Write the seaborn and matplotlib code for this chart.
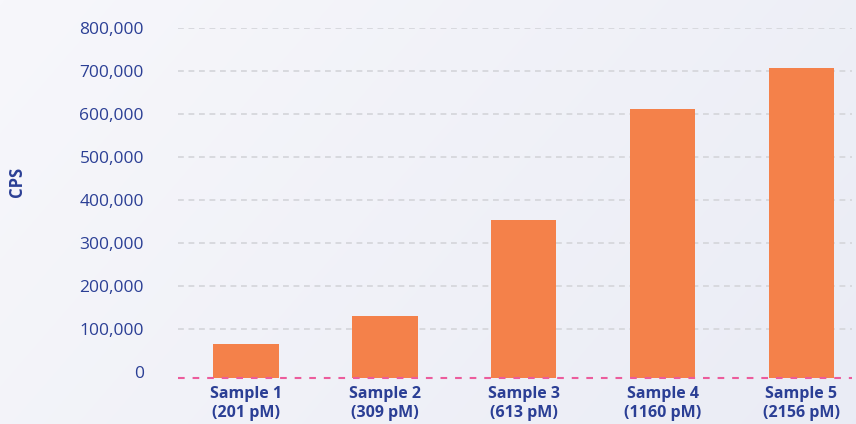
import numpy as np
import pandas as pd
import matplotlib
matplotlib.use("Agg")
import matplotlib.pyplot as plt
import seaborn as sns
from matplotlib.colors import LinearSegmentedColormap

# Data
samples = ["Sample 1", "Sample 2", "Sample 3", "Sample 4", "Sample 5"]
concentrations = ["201 pM", "309 pM", "613 pM", "1160 pM", "2156 pM"]
cps = [65000, 130000, 352000, 610000, 707000]
y_ticks = [0, 100000, 200000, 300000, 400000, 500000, 600000, 700000, 800000]

TEXT = "#2b3f95"
BAR = "#f4814a"
GRID = "#d8d9de"
BASE = "#ec5c9c"

sns.set_theme(style="white")
plt.rcParams["font.family"] = ["Open Sans", "DejaVu Sans"]

W, H = 856, 424
fig = plt.figure(figsize=(W / 100, H / 100), dpi=100)

# soft diagonal background gradient
bg = fig.add_axes([0, 0, 1, 1], zorder=-10)
yy, xx = np.mgrid[0:1:H * 1j, 0:1:W * 1j]
shade = 0.7 * xx + 0.3 * yy
bg.imshow(shade, cmap=LinearSegmentedColormap.from_list("bg", ["#f7f7fb", "#eaecf5"]),
          aspect="auto", extent=[0, 1, 0, 1], origin="upper")
bg.axis("off")

left, right, top, bottom = 178, 852, 27.7, 377.5
ax = fig.add_axes([left / W, (H - bottom) / H, (right - left) / W, (bottom - top) / H])
ax.patch.set_alpha(0)

df = pd.DataFrame({
    "label": [f"{s}\n({c})" for s, c in zip(samples, concentrations)],
    "cps": cps,
})
sns.barplot(data=df, x="label", y="cps", color=BAR, saturation=1, width=0.47,
            ax=ax, zorder=3, errorbar=None)

ymin = -13000
ax.set_ylim(ymin, 800000)
ax.set_xlim(-0.49, 4.364)

# bars rest on the baseline at the bottom of the plot
for p in ax.patches:
    h = p.get_height()
    p.set_y(ymin)
    p.set_height(h - ymin)
    p.set_linewidth(0)

for v in y_ticks[1:]:
    ax.axhline(v, color=GRID, lw=1.4, ls=(0, (3.0, 2.4)), zorder=1)
ax.axhline(ymin, color=BASE, lw=1.5, ls=(0, (3.2, 3.8)), zorder=4, clip_on=False)

ax.set_yticks(y_ticks)
ax.set_yticklabels([f"{v:,}" for v in y_ticks])
ax.tick_params(axis="y", length=0, pad=24.5, labelsize=12.5, labelcolor=TEXT)
ax.tick_params(axis="x", length=0, pad=6, labelsize=11.5, labelcolor=TEXT)
for t in ax.get_yticklabels():
    t.set_fontweight("medium")
for t in ax.get_xticklabels():
    t.set_fontweight("bold")
    t.set_linespacing(1.25)

ax.set_xlabel("")
ax.set_ylabel("")
for s in ax.spines.values():
    s.set_visible(False)

fig.text(17 / W, 1 - 182 / H, "CPS", rotation=90, ha="center", va="center",
         fontsize=12, fontweight="bold", color=TEXT)

fig.savefig("out.png", dpi=100)
